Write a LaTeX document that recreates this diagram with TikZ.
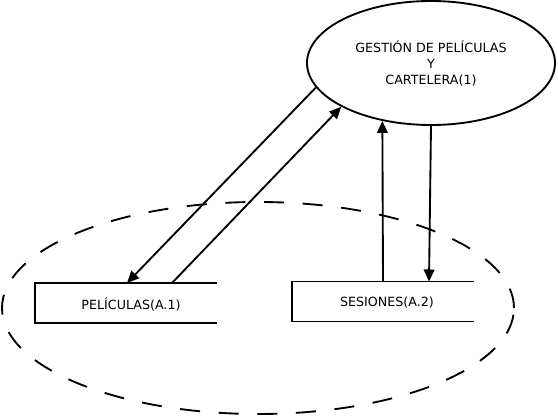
\documentclass[tikz,border=0pt]{standalone}
\usepackage{fontspec}
\setmainfont{DejaVu Sans}
\usetikzlibrary{shapes.geometric,arrows.meta,calc}
\tikzset{
  proc/.style={ellipse,draw,line width=1.4pt,minimum width=186pt,minimum height=93pt,inner sep=0pt,align=center,font=\fontsize{9.5}{12}\selectfont},
  groupell/.style={ellipse,draw,line width=1.4pt,dash pattern=on 15pt off 14pt,minimum width=384pt,minimum height=159pt,inner sep=0pt},
  storebox/.style={rectangle,minimum width=136.5pt,minimum height=30pt,inner sep=0pt,outer sep=0pt},
  storetext/.style={font=\fontsize{9.5}{11}\selectfont,inner sep=0pt},
  storeline/.style={line width=1.4pt},
  flow/.style={line width=1.4pt,-{Triangle[length=9pt,width=8pt]}}
}
\begin{document}
\begin{tikzpicture}[x=0.75pt,y=-0.75pt]
\useasboundingbox (0,0) rectangle (558,417);
\node[groupell] (grp) at (258,308) {};
\node[proc] (g) at (431,63) {GESTIÓN DE PELÍCULAS\\Y\\ CARTELERA(1)};
\node[storebox] (pel) at (126,303) {};
\node[storetext] (peltext) at (131,304) {PELÍCULAS(A.1)};
\node[storebox] (ses) at (383,301.5) {};
\node[storetext] (sestext) at (387,303) {SESIONES(A.2)};
\draw[storeline] (pel.north east) -- (pel.north west) -- (pel.south west) -- (pel.south east);
\draw[storeline] (ses.north east) -- (ses.north west) -- (ses.south west) -- (ses.south east);
\coordinate (p1) at ($(pel.north west)+(92,0)$);
\coordinate (p2) at ($(pel.north west)+(137,0)$);
\coordinate (s1) at (ses.north);
\coordinate (s2) at ($(ses.north west)+(137,0)$);
\draw[flow] (g.192.3) -- (p1);
\draw[flow] (p2) -- (g.206.6);
\draw[flow] (s1) -- (g.230.4);
\draw[flow] (g.south) -- (s2);
\end{tikzpicture}
\end{document}
